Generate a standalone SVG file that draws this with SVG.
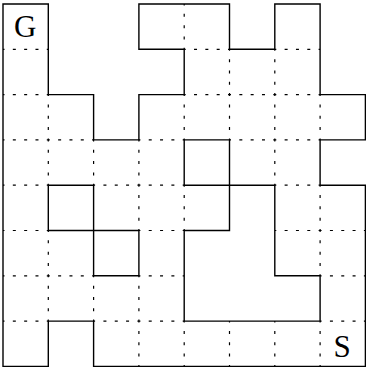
<svg xmlns="http://www.w3.org/2000/svg" width="366" height="369" viewBox="0 0 366 369">
<style>
.dash{fill:none;stroke:#000;stroke-width:1.2;stroke-dasharray:3 8.325;stroke-dashoffset:1.5}
.wall{fill:none;stroke:#000;stroke-width:1.4;stroke-linejoin:miter;stroke-linecap:square}
.lbl{font-family:"Liberation Serif","Times New Roman",serif;font-size:31px;fill:#000;text-anchor:middle}
</style>
<rect width="366" height="369" fill="#fff"/>
<g id="grid" class="dash">
<path d="M3,49.3H48.3M184.2,49.3H229.5M274.8,49.3H320.1
M3,94.6H48.3M184.2,94.6H320.1
M3,139.9H93.6M138.9,139.9H184.2M229.5,139.9H320.1
M3,185.2H48.3M93.6,185.2H184.2M274.8,185.2H320.1
M3,230.5H48.3M138.9,230.5H184.2M274.8,230.5H365.4
M3,275.8H93.6M138.9,275.8H184.2M320.1,275.8H365.4
M3,321.1H48.3M93.6,321.1H184.2M320.1,321.1H365.4"/>
<path d="M48.3,94.6V185.2M48.3,230.5V321.1
M93.6,139.9V185.2M93.6,275.8V321.1
M138.9,139.9V230.5M138.9,275.8V366.4
M184.2,4V49.3M184.2,94.6V139.9M184.2,185.2V230.5M184.2,321.1V366.4
M229.5,49.3V139.9M229.5,321.1V366.4
M274.8,49.3V185.2M274.8,321.1V366.4
M320.1,94.6V139.9M320.1,185.2V275.8M320.1,321.1V366.4"/>
</g>
<g id="walls" class="wall">
<path id="outline" d="M3,4H48.3V94.6H93.6V139.9H138.9V94.6H184.2V49.3H138.9V4H229.5V49.3H274.8V4H320.1V94.6H365.4V139.9H320.1V185.2H365.4V366.4H93.6V321.1H48.3V366.4H3Z"/>
<path id="wall-right" d="M184.2,139.9H229.5V230.5H184.2V321.1H320.1V275.8H274.8V185.2H184.2V139.9"/>
<path id="wall-left" d="M48.3,185.2H93.6V275.8H138.9V230.5H48.3Z"/>
</g>
<g id="goal"><text class="lbl" x="25.3" y="36.7">G</text></g>
<g id="start"><text class="lbl" x="342" y="356.5">S</text></g>
</svg>
